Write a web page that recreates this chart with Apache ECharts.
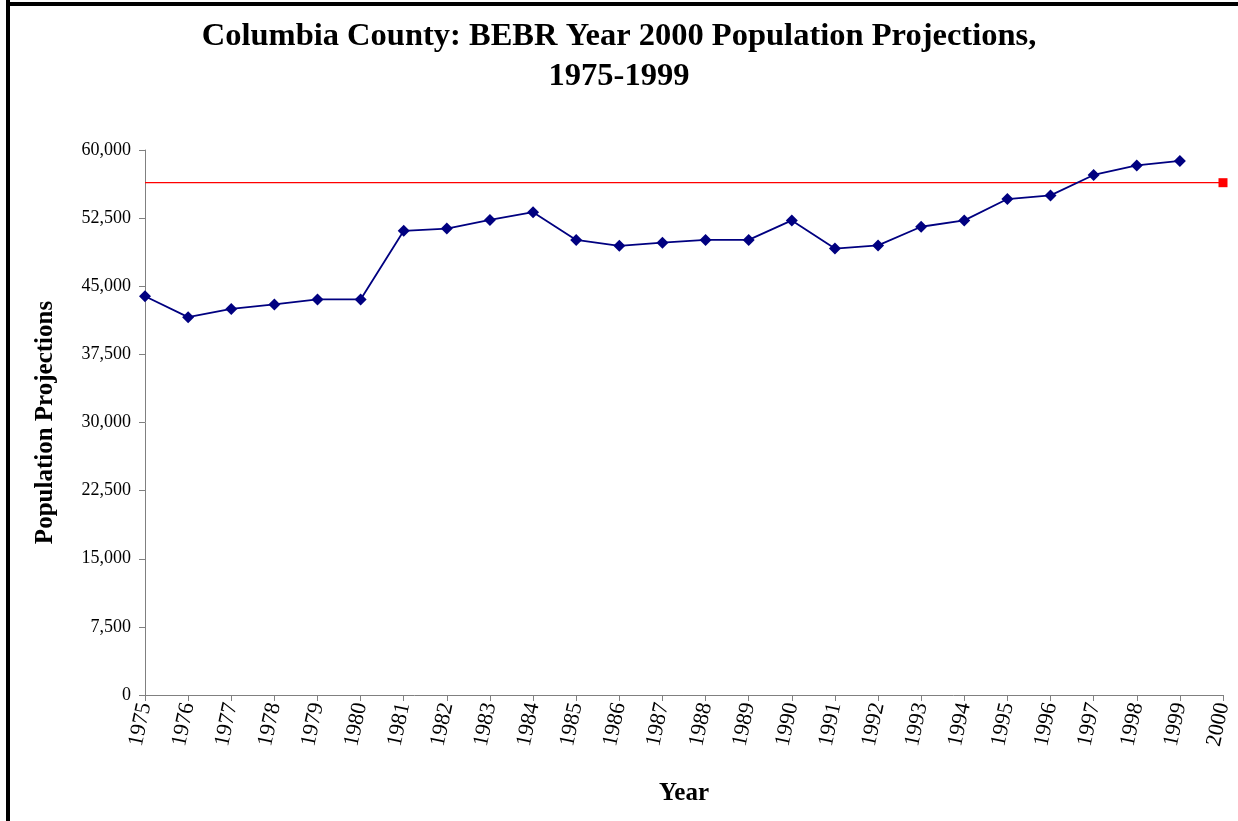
<!DOCTYPE html>
<html>
<head>
<meta charset="utf-8">
<script src="https://cdn.jsdelivr.net/npm/echarts@6/dist/echarts.min.js"></script>
<style>
  html, body { margin: 0; padding: 0; background: #fff; }
  #chart { width: 1238px; height: 821px; }
</style>
</head>
<body>
<div id="chart"></div>
<script>
  // years on the x axis (2000 only carries the projection mark)
  var years = ['1975', '1976', '1977', '1978', '1979', '1980', '1981', '1982', '1983',
    '1984', '1985', '1986', '1987', '1988', '1989', '1990', '1991', '1992', '1993',
    '1994', '1995', '1996', '1997', '1998', '1999', '2000']
  // BEBR projections of year 2000 population, by year of projection
  var projections = [43900, 41600, 42500, 43000, 43550, 43550, 51100, 51350, 52300,
    53150, 50100, 49450, 49800, 50100, 50100, 52250, 49150, 49500, 51550,
    52250, 54600, 55000, 57250, 58300, 58800]
  // actual year 2000 value
  var census2000 = 56400
  var yTicks = [0, 7500, 15000, 22500, 30000, 37500, 45000, 52500, 60000]

  var serif = '"Liberation Serif", "Times New Roman", serif'

  var redData = years.map(function (y, i) {
    return {
      value: census2000,
      symbol: i === years.length - 1 ? 'rect' : 'none',
      symbolSize: 9
    }
  })

  var chart = echarts.init(document.getElementById('chart'))
  chart.setOption({
    backgroundColor: '#fff',
    animation: false,
    graphic: [
      { type: 'rect', shape: { x: 6, y: 0, width: 4, height: 821 }, style: { fill: '#000' } },
      { type: 'rect', shape: { x: 6, y: 2, width: 1232, height: 4 }, style: { fill: '#000' } }
    ],
    title: {
      text: 'Columbia County: BEBR Year 2000 Population Projections,\n1975-1999',
      left: 'center',
      top: 12,
      textStyle: {
        fontFamily: serif,
        fontWeight: 'bold',
        fontSize: 32.5,
        lineHeight: 40,
        color: '#000'
      }
    },
    grid: {
      left: 145,
      right: 15,
      top: 150,
      bottom: 126,
      containLabel: false
    },
    xAxis: {
      type: 'category',
      data: years,
      boundaryGap: false,
      name: 'Year',
      nameLocation: 'middle',
      nameGap: 86,
      nameTextStyle: { fontFamily: serif, fontWeight: 'bold', fontSize: 25, color: '#000' },
      axisLine: { lineStyle: { color: '#808080', width: 1 } },
      axisTick: { alignWithLabel: true, length: 6, lineStyle: { color: '#808080' } },
      axisLabel: {
        rotate: 78,
        margin: 8,
        interval: 0,
        fontFamily: serif,
        fontSize: 22,
        color: '#000'
      },
      splitLine: { show: false }
    },
    yAxis: {
      type: 'value',
      min: 0,
      max: 60000,
      interval: 7500,
      name: 'Population Projections',
      nameLocation: 'middle',
      nameGap: 87,
      nameRotate: 90,
      nameTextStyle: { fontFamily: serif, fontWeight: 'bold', fontSize: 25, color: '#000' },
      axisLine: { show: true, lineStyle: { color: '#808080', width: 1 } },
      axisTick: { show: true, length: 6, lineStyle: { color: '#808080' } },
      axisLabel: {
        margin: 14,
        fontFamily: serif,
        fontSize: 18,
        color: '#000',
        formatter: function (v) {
          return yTicks.indexOf(v) >= 0 ? v.toLocaleString('en-US') : ''
        }
      },
      splitLine: { show: false }
    },
    series: [
      {
        name: 'Projection',
        type: 'line',
        data: projections,
        symbol: 'diamond',
        symbolSize: 12,
        lineStyle: { color: '#000080', width: 1.8 },
        itemStyle: { color: '#000080' },
        z: 3
      },
      {
        name: 'Census 2000',
        type: 'line',
        data: redData,
        showAllSymbol: true,
        lineStyle: { color: '#ff0000', width: 1.3 },
        itemStyle: { color: '#ff0000' },
        z: 2
      }
    ]
  })
</script>
</body>
</html>
